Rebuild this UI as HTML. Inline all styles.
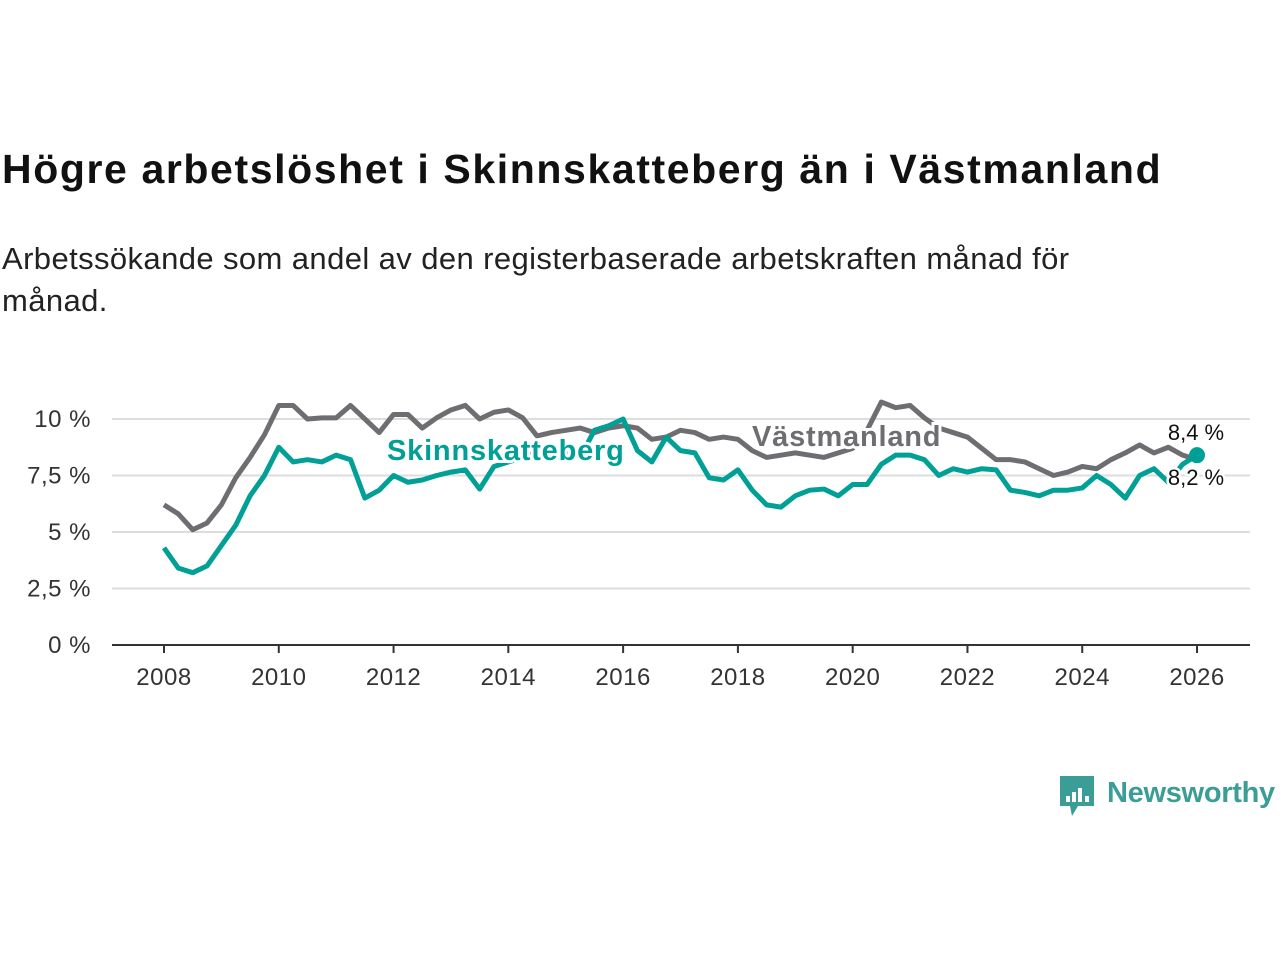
<!DOCTYPE html>
<html><head><meta charset="utf-8"><style>
body{margin:0;width:1280px;height:960px;background:#fff;font-family:"Liberation Sans","DejaVu Sans",sans-serif;overflow:hidden;position:relative}
h1{position:absolute;left:2px;top:146px;margin:0;font-size:41px;font-weight:bold;color:#111;letter-spacing:1.6px}
p{position:absolute;left:2px;top:238px;margin:0;font-size:31px;line-height:42px;color:#222;width:1170px;letter-spacing:0.4px}
svg{position:absolute;left:0;top:0}
</style></head><body>
<h1>Högre arbetslöshet i Skinnskatteberg än i Västmanland</h1>
<p>Arbetssökande som andel av den registerbaserade arbetskraften månad för månad.</p>
<svg id="c" width="1280" height="960"></svg>
<script>
const years=[2008,2010,2012,2014,2016,2018,2020,2022,2024,2026];
const yTicks=[0,2.5,5,7.5,10];
const yTickLabels=["0 %","2,5 %","5 %","7,5 %","10 %"];
const startYear=2008, step=0.25;
const vastmanland=[6.2,5.8,5.1,5.4,6.2,7.4,8.3,9.3,10.6,10.6,10.0,10.05,10.05,10.6,10.0,9.4,10.2,10.2,9.6,10.05,10.4,10.6,10.0,10.3,10.4,10.05,9.25,9.4,9.5,9.6,9.4,9.6,9.7,9.6,9.1,9.2,9.5,9.4,9.1,9.2,9.1,8.6,8.3,8.4,8.5,8.4,8.3,8.5,8.7,9.5,10.75,10.5,10.6,10.05,9.6,9.4,9.2,8.7,8.2,8.2,8.1,7.8,7.5,7.65,7.9,7.8,8.2,8.5,8.85,8.5,8.75,8.4,8.2];
const skinnskatteberg=[4.3,3.4,3.2,3.5,4.4,5.3,6.6,7.5,8.75,8.1,8.2,8.1,8.4,8.2,6.5,6.85,7.5,7.2,7.3,7.5,7.65,7.75,6.9,7.9,8.1,8.3,8.5,8.6,8.5,8.3,9.5,9.7,10.0,8.6,8.1,9.2,8.6,8.5,7.4,7.3,7.75,6.85,6.2,6.1,6.6,6.85,6.9,6.6,7.1,7.1,8.0,8.4,8.4,8.2,7.5,7.8,7.65,7.8,7.75,6.85,6.75,6.6,6.85,6.85,6.95,7.5,7.1,6.5,7.5,7.8,7.2,8.0,8.4];
const X=y=>164+(y-2008)*57.39, Y=v=>645-v*22.6;
const s=document.getElementById('c'),NS='http://www.w3.org/2000/svg';
function mk(t,a,p){const e=document.createElementNS(NS,t);for(const k in a)e.setAttribute(k,a[k]);(p||s).appendChild(e);return e;}
yTicks.forEach((v,i)=>{
 if(v>0){const l=mk('line',{x1:112,x2:1250,y1:Y(v),y2:Y(v),stroke:'#ddd','stroke-width':2});
 
 }
 const t=mk('text',{x:91,y:Y(v)+8,'text-anchor':'end','font-size':24,fill:'#333','letter-spacing':0.5});t.textContent=yTickLabels[i];
 
 
});
const ax=mk('line',{x1:112,x2:1250,y1:645,y2:645,stroke:'#333','stroke-width':2});


years.forEach(y=>{
 mk('line',{x1:X(y),x2:X(y),y1:645,y2:653,stroke:'#333','stroke-width':2});
 const t=mk('text',{x:X(y),y:685,'text-anchor':'middle','font-size':24,fill:'#333','letter-spacing':0.5});t.textContent=y;
 
 
});
function line(d,col,name){
 const p=mk('polyline',{points:d.map((v,i)=>X(startYear+i*step)+','+Y(v)).join(' '),fill:'none',stroke:col,'stroke-width':5,'stroke-linejoin':'round'});
 
 
}
line(vastmanland,'#6e6d72','vastmanland-line');
line(skinnskatteberg,'#00a096','skinnskatteberg-line');
function lab(x,y,txt,col,name){
 const t=mk('text',{x:x,y:y,'font-size':29,'font-weight':'bold',fill:col,stroke:'#fff','stroke-width':6,'paint-order':'stroke','letter-spacing':0.8});t.textContent=txt;
 
 
}
lab(752,446,'Västmanland','#6e6d72','vastmanland-label');
lab(387,460,'Skinnskatteberg','#00a096','skinnskatteberg-label');
const n=skinnskatteberg.length-1;
const dot=mk('circle',{cx:X(startYear+n*step),cy:Y(skinnskatteberg[n]),r:8,fill:'#00a096'});


function vl(y,v,name){const t=mk('text',{x:1196,y:y,'text-anchor':'middle','font-size':22,fill:'#111',stroke:'#fff','stroke-width':5,'paint-order':'stroke'});t.textContent=String(v).replace('.',',')+' %';
 
 }
vl(440,skinnskatteberg[n],'skinnskatteberg-value');
vl(485,vastmanland[n],'vastmanland-value');
const g=mk('g',{});


mk('path',{d:'M1060 776h34v30h-16l-6 10l-2-10h-10z',fill:'#3a9e96'},g);
[[1066,796,4,6],[1072,792,4,10],[1078,788,4,14],[1085,796,4,6]].forEach(r=>mk('rect',{x:r[0],y:r[1],width:r[2],height:r[3],fill:'#fff'},g));
const lt=mk('text',{x:1107,y:802,'font-size':29,fill:'#3a9e96','font-weight':'bold','letter-spacing':-0.3},g);lt.textContent='Newsworthy';
</script>
</body></html>
